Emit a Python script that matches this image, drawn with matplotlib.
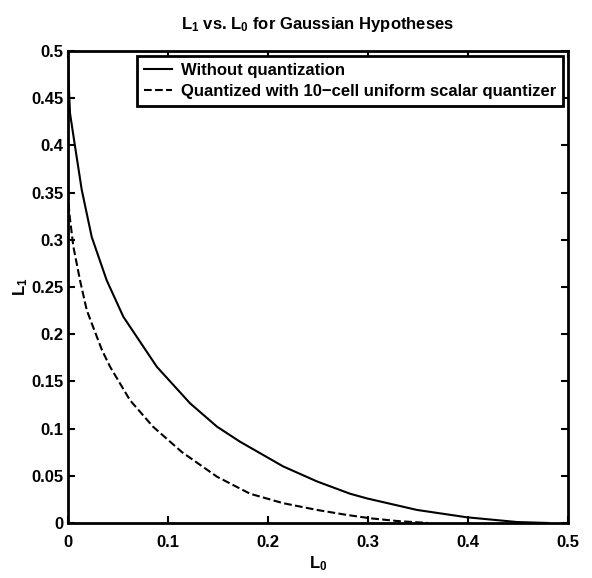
import matplotlib
matplotlib.use('Agg')
import matplotlib.pyplot as plt
import numpy as np

# values
l0_exact = [0.0, 0.0005, 0.002, 0.007, 0.0137, 0.0237, 0.0387, 0.0553, 0.0887,
            0.122, 0.149, 0.172, 0.215, 0.249, 0.282, 0.299, 0.349, 0.399, 0.449, 0.48]
l1_exact = [0.5, 0.47, 0.434, 0.399, 0.353, 0.303, 0.257, 0.2185, 0.1656,
            0.1268, 0.102, 0.0861, 0.060, 0.044, 0.031, 0.026, 0.0138, 0.006, 0.001, 0.0]

l0_quant = [0.0, 0.0013, 0.0053, 0.012, 0.0187, 0.0237, 0.034, 0.042, 0.062, 0.085,
            0.114, 0.149, 0.182, 0.215, 0.249, 0.279, 0.302, 0.33, 0.36]
l1_quant = [0.35, 0.328, 0.293, 0.257, 0.2256, 0.2115, 0.183, 0.1656, 0.130, 0.102,
            0.075, 0.049, 0.031, 0.021, 0.0138, 0.0085, 0.005, 0.002, 0.0]

xticks = [0, 0.1, 0.2, 0.3, 0.4, 0.5]
xticklabels = ['0', '0.1', '0.2', '0.3', '0.4', '0.5']
yticks = [0, 0.05, 0.1, 0.15, 0.2, 0.25, 0.3, 0.35, 0.4, 0.45, 0.5]
yticklabels = ['0', '0.05', '0.1', '0.15', '0.2', '0.25', '0.3', '0.35', '0.4', '0.45', '0.5']

plt.rcParams['font.family'] = ['Liberation Sans', 'DejaVu Sans']
plt.rcParams['font.weight'] = 'bold'
plt.rcParams['mathtext.fontset'] = 'custom'
plt.rcParams['mathtext.rm'] = 'Liberation Sans:bold'
plt.rcParams['mathtext.bf'] = 'Liberation Sans:bold'
plt.rcParams['mathtext.it'] = 'Liberation Sans:bold'

fig = plt.figure(figsize=(5.92, 5.78), dpi=100)
ax = fig.add_axes([0.1149, 0.0952, 0.8446, 0.8166])

ax.plot(l0_exact, l1_exact, 'k-', lw=1.5, label='Without quantization')
ax.plot(l0_quant, l1_quant, 'k--', lw=1.5, label='Quantized with 10\u2212cell uniform scalar quantizer')

ax.set_xlim(0, 0.5)
ax.set_ylim(0, 0.5)
ax.set_xticks(xticks)
ax.set_xticklabels(xticklabels, fontweight='bold')
ax.set_yticks(yticks)
ax.set_yticklabels(yticklabels, fontweight='bold')
ax.tick_params(direction='in', length=5, width=1.5, top=True, right=True, labelsize=12)
ax.tick_params(axis='x', pad=9)
for s in ax.spines.values():
    s.set_linewidth(2)

ax.set_title(r'$\mathbf{L_1}$ vs. $\mathbf{L_0}$ for Gaussian Hypotheses',
             fontsize=12, fontweight='bold', pad=16)
ax.set_xlabel(r'$\mathbf{L_0}$', fontsize=12, labelpad=3)
ax.set_ylabel(r'$\mathbf{L_1}$', fontsize=12, labelpad=1)

leg = ax.legend(loc='upper right', prop={'size': 12, 'weight': 'bold'}, borderaxespad=0.3,
                handlelength=1.7, handletextpad=0.55, fancybox=False, framealpha=1,
                edgecolor='black', borderpad=0.4, labelspacing=0.4)
leg.get_frame().set_linewidth(2)

fig.savefig('out.png', dpi=100)
